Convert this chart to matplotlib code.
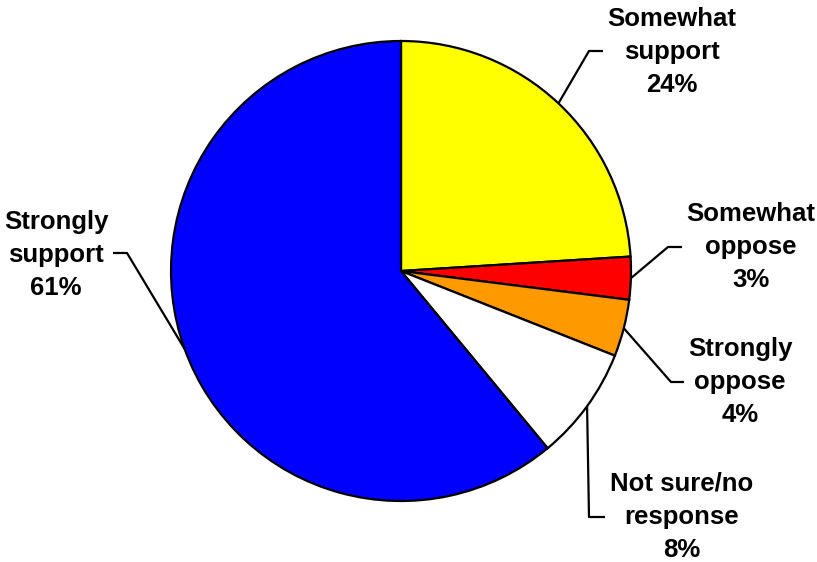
import numpy as np
import matplotlib.pyplot as plt

labels = ['Somewhat\nsupport', 'Somewhat\noppose', 'Strongly\noppose',
          'Not sure/no\nresponse', 'Strongly\nsupport']
values = [24, 3, 4, 8, 61]
colors = ['#FFFF00', '#FF0000', '#FF9900', '#FFFFFF', '#0000FF']

# layout in pixels from top-left: label centre and leader elbow
W, H = 817, 562
cx, cy, R = 401, 271, 230
label_pos = [(672, 52), (751, 247), (740, 382), (682, 517), (56, 255)]
elbow_pos = [(589, 51), (668, 247), (671, 382), (589, 517), (127, 253)]
tail_pos = [(603, 51), (682, 247), (684, 382), (605, 517), (113, 253)]

plt.rcParams['font.family'] = ['Liberation Sans', 'DejaVu Sans']

fig = plt.figure(figsize=(W / 100, H / 100), dpi=100)
ax = fig.add_axes([0, 0, 1, 1])

wedges, _ = ax.pie(values, colors=colors, startangle=90, counterclock=False,
                   center=(cx, H - cy), radius=R, frame=True,
                   wedgeprops=dict(edgecolor='black', linewidth=1.6))
ax.set_xlim(0, W)
ax.set_ylim(0, H)
ax.set_aspect('equal')
ax.axis('off')

for w, lab, v, lp, ep, tp in zip(wedges, labels, values, label_pos, elbow_pos, tail_pos):
    ang = np.deg2rad((w.theta1 + w.theta2) / 2)
    sx = cx + R * np.cos(ang)
    sy = H - cy + R * np.sin(ang)
    ax.plot([sx, ep[0], tp[0]], [sy, H - ep[1], H - tp[1]], color='black',
            linewidth=1.6, solid_capstyle='butt', clip_on=False)
    ax.text(lp[0], H - lp[1], f'{lab}\n{v}%', ha='center', va='center',
            fontsize=18.5, fontweight='bold', linespacing=1.48)

plt.savefig('out.png', dpi=100)
